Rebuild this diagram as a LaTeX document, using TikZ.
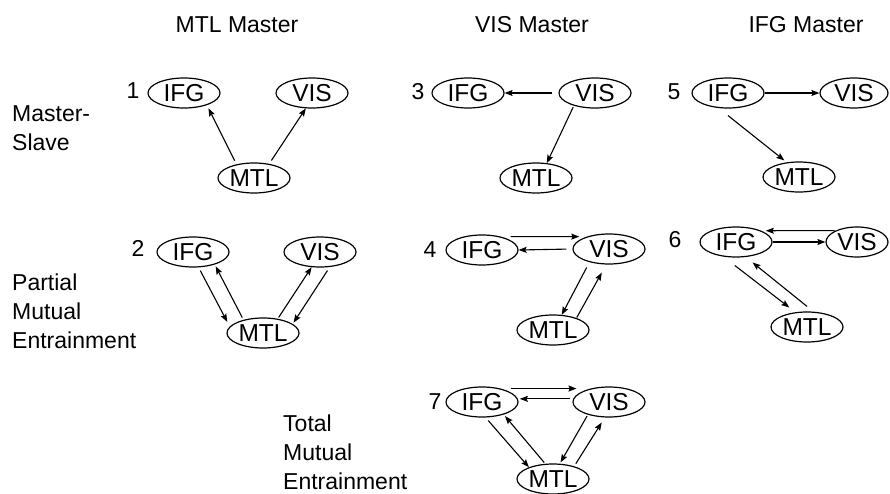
\documentclass[tikz,border=0pt]{standalone}
\usepackage{fontspec}
\setmainfont{Liberation Sans}
\usetikzlibrary{arrows.meta,shapes.geometric}
\begin{document}
\begin{tikzpicture}[x=1pt,y=-1pt,
  every node/.style={font=\fontsize{23}{29}\selectfont},
  reg/.style={ellipse,draw,line width=1.2pt,minimum width=72pt,minimum height=30pt,inner sep=0pt,font=\fontsize{24.5}{29}\selectfont},
  arr/.style={line width=1.1pt,-{Stealth[length=8pt,width=6pt,inset=1.3pt]}},
  lbl/.style={anchor=west,align=left,inner sep=0pt},
]
\useasboundingbox[fill=white] (0,0) rectangle (890,494);

% headers
\node (hmtl) at (237,25) {MTL Master};
\node (hvis) at (532,25) {VIS Master};
\node (hifg) at (806,25) {IFG Master};

% row labels
\node[lbl] (lms) at (12,128) {Master-\\Slave};
\node[lbl] (lpme) at (12,311) {Partial\\Mutual\\Entrainment};
\node[lbl] (ltme) at (283,452) {Total\\Mutual\\Entrainment};

% diagram 1
\node (n1) at (133,91) {1};
\node[reg] (i1) at (184,93) {IFG};
\node[reg] (v1) at (312,93) {VIS};
\node[reg] (m1) at (254,178) {MTL};
\draw[arr,shorten <=4pt,shorten >=3.5pt] (m1.142) -- (i1.-28);
\draw[arr,shorten <=4pt] (m1.43) -- (v1.-112);

% diagram 3
\node (n3) at (418,92) {3};
\node[reg] (i3) at (468,93) {IFG};
\node[reg] (v3) at (595,93) {VIS};
\node[reg] (m3) at (536,178) {MTL};
\draw[arr,shorten <=6pt] (v3.180) -- (i3.0);
\draw[arr,shorten <=1.5pt] (v3.-149) -- (m3.54);

% diagram 5
\node (n5) at (674,92) {5};
\node[reg] (i5) at (728,93) {IFG};
\node[reg,minimum width=68pt] (v5) at (854,93) {VIS};
\node[reg] (m5) at (799,177) {MTL};
\draw[arr] (i5.0) -- (v5.180);
\draw[arr,shorten <=12pt,shorten >=3pt] (i5.-122) -- (m5.130);

% diagram 2
\node (n2) at (138,248) {2};
\node[reg] (i2) at (193,252) {IFG};
\node[reg] (v2) at (320,252) {VIS};
\node[reg] (m2) at (263,333) {MTL};
\draw[arr,shorten <=3.6pt,shorten >=5.2pt] (i2.-70) -- (m2.169);
\draw[arr,shorten <=2.5pt,shorten >=2pt] (m2.146) -- (i2.-30);
\draw[arr,shorten <=1.5pt] (m2.44) -- (v2.-119);
\draw[arr,shorten <=4.2pt,shorten >=1.5pt] (v2.-57) -- (m2.17);

% diagram 4
\node (n4) at (430,250) {4};
\node[reg] (i4) at (482,250) {IFG};
\node[reg] (v4) at (609,249) {VIS};
\node[reg] (m4) at (553,330) {MTL};
\draw[arr,shorten <=10pt,shorten >=7.4pt] (i4.36) -- (v4.151);
\draw[arr,shorten <=6pt] (v4.180) -- (i4.0);
\draw[arr,shorten <=6pt] (v4.-146) -- (m4.60);
\draw[arr,shorten <=0.5pt,shorten >=9.2pt] (m4.27) -- (v4.-100);

% diagram 6
\node (n6) at (675,240) {6};
\node[reg] (i6) at (736,242) {IFG};
\node[reg,minimum width=62pt] (v6) at (857,242) {VIS};
\node[reg] (m6) at (807,327) {MTL};
\draw[arr,shorten <=1pt,shorten >=4.5pt] (v6.152) -- (i6.24);
\draw[arr] (i6.0) -- (v6.180);
\draw[arr,shorten <=14.5pt,shorten >=7.7pt] (i6.-131) -- (m6.128);
\draw[arr,shorten <=8.3pt,shorten >=8.7pt] (m6.67) -- (i6.-57);

% diagram 7
\node (n7) at (435,402) {7};
\node[reg] (i7) at (482,402) {IFG};
\node[reg] (v7) at (609,402) {VIS};
\node[reg] (m7) at (553,479) {MTL};
\draw[arr,shorten <=10pt,shorten >=14pt] (i7.36) -- (v7.144);
\draw[arr,shorten <=3pt,shorten >=2pt] (v7.175) -- (i7.5);
\draw[arr,shorten <=4pt] (i7.-77) -- (m7.154);
\draw[arr,shorten <=1.5pt,shorten >=2pt] (m7.117) -- (i7.-30);
\draw[arr,shorten <=1.5pt,shorten >=1.5pt] (v7.-149) -- (m7.66);
\draw[arr,shorten <=3.1pt,shorten >=5.9pt] (m7.31) -- (v7.-105);
\end{tikzpicture}
\end{document}
